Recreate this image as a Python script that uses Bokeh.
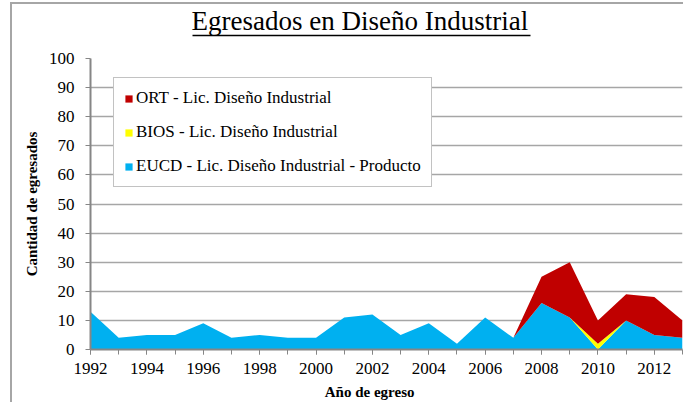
from bokeh.plotting import figure
from bokeh.models import (ColumnDataSource, Legend, LegendItem, FixedTicker,
                          Title, LinearAxis)
from bokeh.embed import file_html
from bokeh.resources import INLINE

# ---- data ----
years = list(range(1992, 2014))
eucd = [13, 4, 5, 5, 9, 4, 5, 4, 4, 11, 12, 5, 9, 2, 11, 4, 16, 11, 0, 10, 5, 4]
bios = [0, 0, 0, 0, 0, 0, 0, 0, 0, 0, 0, 0, 0, 0, 0, 0, 0, 0, 2, 0, 0, 0]
ort = [0, 0, 0, 0, 0, 0, 0, 0, 0, 0, 0, 0, 0, 0, 0, 0, 9, 19, 8, 9, 13, 6]
series_names = ["EUCD - Lic. Diseño Industrial - Producto",
                "BIOS - Lic. Diseño Industrial",
                "ORT - Lic. Diseño Industrial"]
colors = ["#00B0F0", "#FFFF00", "#C00000"]
x_ticks = list(range(1992, 2014, 2))
y_ticks = list(range(0, 101, 10))
title_text = "Egresados en Diseño Industrial"
x_label = "Año de egreso"
y_label = "Cantidad de egresados"

SERIF = "Liberation Serif"
GREY = "#868686"
BORDER = "#A6A6A6"

src = ColumnDataSource(dict(year=years, eucd=eucd, bios=bios, ort=ort))

p = figure(width=683, height=402, output_backend="svg", toolbar_location=None,
           x_range=(1992, 2013), y_range=(0, 100),
           min_border_left=90, min_border_right=1,
           min_border_top=58, min_border_bottom=53,
           background_fill_color="white", border_fill_color=None)
p.outline_line_color = None
# outer chart border (left and top edges), drawn as CSS background lines
p.styles = {
    "background": (f"linear-gradient({BORDER},{BORDER}) 10px 2px / 2px 100% no-repeat, "
                   f"linear-gradient({BORDER},{BORDER}) 10px 2px / 100% 2px no-repeat, "
                   "white"),
}

rs = p.varea_stack(stackers=["eucd", "bios", "ort"], x="year",
                   color=colors, source=src)

# axes
p.xaxis.ticker = FixedTicker(ticks=x_ticks, minor_ticks=years)
p.yaxis.ticker = FixedTicker(ticks=y_ticks, minor_ticks=[])
for ax in (p.xaxis, p.yaxis):
    ax.axis_line_color = GREY
    ax.axis_line_width = 2
    ax.major_tick_line_color = GREY
    ax.minor_tick_line_color = GREY
    ax.major_tick_in = 0
    ax.major_tick_out = 5
    ax.minor_tick_in = 0
    ax.minor_tick_out = 5
    ax.major_label_text_font = SERIF
    ax.major_label_text_font_size = "17px"
    ax.major_label_text_color = "black"
    ax.axis_label_text_font = SERIF
    ax.axis_label_text_font_size = "15px"
    ax.axis_label_text_font_style = "bold"
    ax.axis_label_text_color = "black"
p.yaxis.major_label_standoff = 11
p.xaxis.major_label_standoff = 8
p.yaxis.axis_label = y_label
p.yaxis.axis_label_standoff = 6
p.xaxis.axis_label = x_label + "\u00a0" * 9
p.xaxis.axis_label_standoff = 7

p.xgrid.grid_line_color = None
p.ygrid.ticker = FixedTicker(ticks=y_ticks)
p.ygrid.grid_line_color = "#A6A6A6"
p.ygrid.grid_line_width = 1.5
p.ygrid.level = "underlay"

# legend
items = [LegendItem(label=series_names[2], renderers=[rs[2]]),
         LegendItem(label=series_names[1], renderers=[rs[1]]),
         LegendItem(label=series_names[0], renderers=[rs[0]])]
leg = Legend(items=items, location=(23, 162))
leg.label_text_font = SERIF
leg.label_text_font_size = "17px"
leg.label_text_color = "black"
leg.glyph_width = 9
leg.glyph_height = 9
leg.label_height = 20
leg.label_standoff = 3
leg.spacing = 14
leg.padding = 10
leg.margin = 0
leg.border_line_color = GREY
leg.border_line_width = 1
leg.background_fill_color = "white"
leg.background_fill_alpha = 1
p.add_layout(leg)


def bare_axis(loc, bounds="auto", color=None, width=1, spacer_px=None):
    """An axis with no ticks/labels: either a plain line or an empty spacer."""
    ax = LinearAxis(bounds=bounds,
                    ticker=FixedTicker(ticks=[], minor_ticks=[]),
                    major_tick_out=0, major_tick_in=0,
                    minor_tick_out=0, minor_tick_in=0,
                    major_label_text_font_size="0px",
                    axis_line_color=color, axis_line_width=width)
    if spacer_px is not None:
        ax.axis_line_color = None
        ax.axis_label = "\u00a0"
        ax.axis_label_text_font_size = f"{spacer_px}px"
        ax.axis_label_standoff = 0
    p.add_layout(ax, loc)
    return ax


# above: spacer, title underline, title
bare_axis("above", spacer_px=18)
bare_axis("above", bounds=(1995.62, 2007.61), color="black", width=1.5)
p.add_layout(Title(text=title_text, text_font=SERIF, text_font_size="27px",
                   text_font_style="normal", text_color="black",
                   align="left", offset=101, standoff=0), "above")

open("out.html", "w").write(file_html(p, INLINE))
